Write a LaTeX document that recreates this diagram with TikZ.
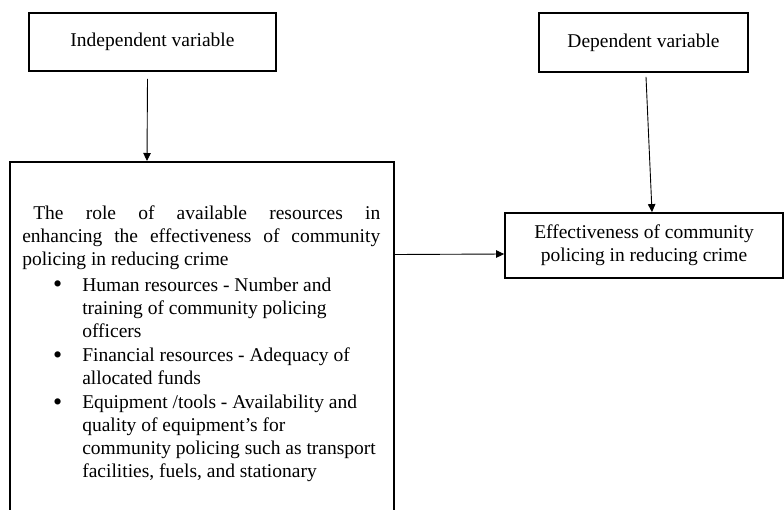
\documentclass[tikz,border=0pt]{standalone}
\usepackage{fontspec}
\setmainfont{Liberation Serif}
\usepackage{enumitem}
\usetikzlibrary{arrows.meta}

\begin{document}
\begin{tikzpicture}[
            x=1pt, y=-1pt,
            box/.style={
                    draw,
                    rectangle,
                    line width=1.8pt,
                    align=center,
                    font=\fontsize{19.5}{22.9}\selectfont,
                    inner sep=0pt
                },
            link/.style={
                    -{Triangle[length=8pt, width=7.5pt]},
                    line width=0.9pt
                },
            body/.style={
                    anchor=north west,
                    inner sep=0pt,
                    text width=358pt,
                    align=justify,
                    font=\fontsize{19.5}{22.9}\selectfont
                }
        ]

        \useasboundingbox (0, 0) rectangle (784, 509);
        \clip (0, 0) rectangle (784, 509);

        \node[box, minimum width=247pt, minimum height=58pt] (indep) at (152.5, 42) {Independent variable};
        \node[box, minimum width=209pt, minimum height=59pt] (dep) at (643.5, 42.5) {Dependent variable};
        \node[box, minimum width=278pt, minimum height=65pt] (effect) at (644, 245.5) {Effectiveness of community\\policing in reducing crime};
        \node[box, minimum width=384pt, minimum height=420pt, anchor=north] (resources) at (202, 161) {};

        \node[body] (resourcestext) at ([xshift=13pt, yshift=-44.7pt]resources.north west) {%
            \hspace*{11pt}The role of available resources in\linebreak
            enhancing the effectiveness of community\linebreak
            policing in reducing crime
            \begin{itemize}[label={\fontsize{26}{26}\selectfont\raisebox{-1.5pt}{\textbullet}}, leftmargin=60pt,
                    labelwidth=9pt, labelsep=20pt, topsep=3pt, partopsep=0pt, itemsep=1.5pt, parsep=0pt]
                \raggedright
                \item Human resources - Number and\\ training of community policing\\ officers
                \item Financial resources - Adequacy of\\ allocated funds
                \item Equipment /tools - Availability and\\ quality of equipment’s for\\ community policing such as transport\\ facilities, fuels, and stationary
            \end{itemize}};

        \draw[link] ([xshift=-5pt, yshift=-7pt]indep.south) to ([xshift=-55pt]resources.north);
        \draw[link] ([xshift=2.5pt, yshift=-4pt]dep.south) to ([xshift=8pt]effect.north);
        \draw[link] ([yshift=-93.5pt]resources.north east) to ([yshift=-8.5pt]effect.west);

\end{tikzpicture}
\end{document}
